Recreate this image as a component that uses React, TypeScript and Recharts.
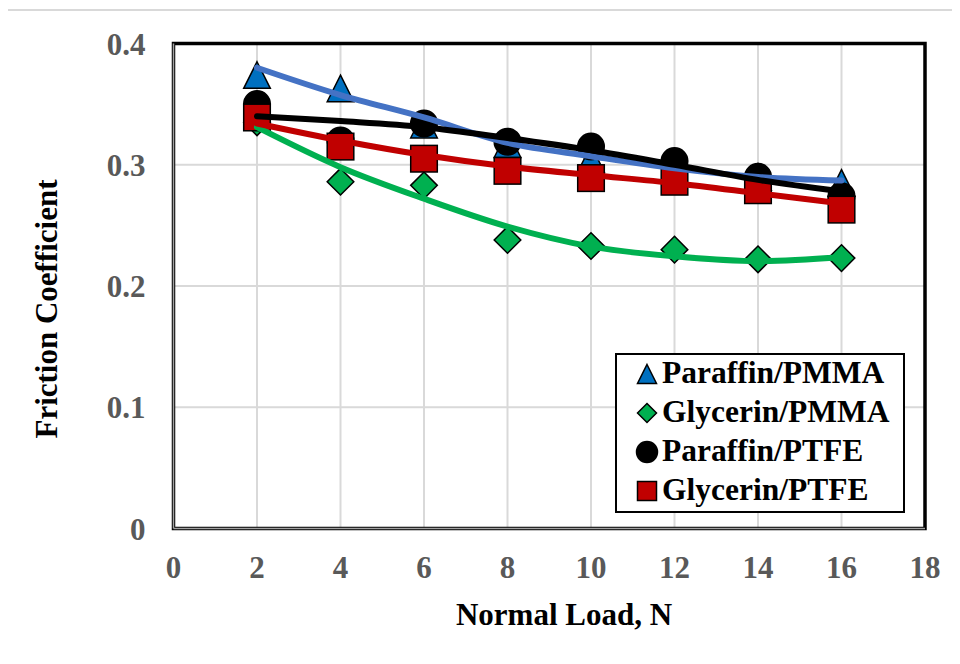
import React from "react"
import {
  ComposedChart,
  Line,
  XAxis,
  YAxis,
  CartesianGrid,
  ReferenceArea,
  Legend,
  Label,
} from "recharts"

const loads = [2, 4, 6, 8, 10, 12, 14, 16]

// measured points
const paraffinPmma = [0.374, 0.363, 0.333, 0.317, 0.305, 0.296, 0.29, 0.285]
const glycerinPmma = [0.335, 0.286, 0.283, 0.238, 0.233, 0.23, 0.222, 0.223]
const paraffinPtfe = [0.35, 0.32, 0.334, 0.319, 0.315, 0.303, 0.29, 0.274]
const glycerinPtfe = [0.339, 0.315, 0.305, 0.295, 0.289, 0.286, 0.279, 0.263]

// trend lines at each load
const paraffinPmmaFit = [0.38, 0.3575, 0.339, 0.318, 0.307, 0.297, 0.29, 0.287]
const glycerinPmmaFit = [0.331, 0.298, 0.272, 0.249, 0.2325, 0.2245, 0.2205, 0.224]
const paraffinPtfeFit = [0.34, 0.336, 0.331, 0.322, 0.312, 0.3, 0.2875, 0.278]
const glycerinPtfeFit = [0.334, 0.32, 0.308, 0.2985, 0.2915, 0.2848, 0.2765, 0.268]

const xTicks = [0, 2, 4, 6, 8, 10, 12, 14, 16, 18]
const yTicks = [0, 0.1, 0.2, 0.3, 0.4]

const FONT = '"Liberation Serif", "Times New Roman", serif'

const toPoints = (ys: number[]) => loads.map((x, i) => ({ x, y: ys[i] }))

const Triangle = ({ cx, cy, s = 13.3 }: any) => (
  <path
    d={`M${cx},${cy - s} L${cx + s},${cy + s} L${cx - s},${cy + s} Z`}
    fill="#0070C0"
    stroke="#000"
    strokeWidth={1.5}
  />
)
const Diamond = ({ cx, cy, s = 13.3 }: any) => (
  <path
    d={`M${cx},${cy - s} L${cx + s},${cy} L${cx},${cy + s} L${cx - s},${cy} Z`}
    fill="#00B050"
    stroke="#000"
    strokeWidth={1.5}
  />
)
const Dot = ({ cx, cy, s = 13.3 }: any) => (
  <circle cx={cx} cy={cy} r={s} fill="#000" stroke="#000" strokeWidth={1.5} />
)
const Square = ({ cx, cy, s = 13.3 }: any) => (
  <rect x={cx - s} y={cy - s} width={s * 2} height={s * 2} fill="#C00000" stroke="#000" strokeWidth={1.5} />
)

const series = [
  { name: "Paraffin/PMMA", pts: paraffinPmma, fit: paraffinPmmaFit, line: "#4472C4", Mark: Triangle },
  { name: "Glycerin/PMMA", pts: glycerinPmma, fit: glycerinPmmaFit, line: "#00B050", Mark: Diamond },
  { name: "Paraffin/PTFE", pts: paraffinPtfe, fit: paraffinPtfeFit, line: "#000000", Mark: Dot },
  { name: "Glycerin/PTFE", pts: glycerinPtfe, fit: glycerinPtfeFit, line: "#C00000", Mark: Square },
]

// trend lines are painted over all markers
const lineOrder = [1, 3, 0, 2]

function LegendBox() {
  return (
    <svg width={290} height={160} style={{ display: "block" }}>
      <rect x={1} y={1} width={288} height={158} fill="#fff" stroke="#000" strokeWidth={2} />
      {series.map((s, i) => {
        const base = 30 + i * 39
        const M = s.Mark
        return (
          <g key={s.name}>
            <M cx={32} cy={base - 9} s={i === 2 ? 10.5 : 9.5} />
            <text x={47} y={base} fontFamily={FONT} fontWeight="bold" fontSize={31.5} fill="#000">
              {s.name}
            </text>
          </g>
        )
      })}
    </svg>
  )
}

export default function App() {
  return (
    <div style={{ position: "relative", width: 952, height: 656 }}>
      <style>{`body{overflow:hidden}`}</style>
      <div
        style={{
          position: "absolute",
          left: -2,
          top: 1,
          width: 960,
          height: 700,
          borderLeft: "2px solid #d9d9d9",
          borderTop: "2px solid #d9d9d9",
          boxSizing: "border-box",
          pointerEvents: "none",
        }}
      />
      <ComposedChart
        width={952}
        height={656}
        margin={{ top: 35.5, right: 35, left: 65.5, bottom: 75.5 }}
        style={{ fontFamily: FONT }}
      >
        <CartesianGrid stroke="#d9d9d9" strokeWidth={2} />
        <ReferenceArea x1={0} x2={18} y1={0} y2={0.4} fill="none" stroke="#000" strokeWidth={3.5} />
        <XAxis
          type="number"
          dataKey="x"
          domain={[0, 18]}
          ticks={xTicks}
          height={60}
          tickSize={0}
          tickMargin={27.5}
          axisLine={{ stroke: "#a0a0a0", strokeWidth: 1.5 }}
          tick={{ fill: "#595959", fontSize: 31, fontWeight: "bold", fontFamily: FONT }}
        >
          <Label
            content={() => (
              <text x={556} y={617} textAnchor="middle" fontFamily={FONT} fontWeight="bold" fontSize={31} fill="#000">
                Normal Load, N
              </text>
            )}
          />
        </XAxis>
        <YAxis
          type="number"
          dataKey="y"
          domain={[0, 0.4]}
          ticks={yTicks}
          width={100}
          tickSize={0}
          tickMargin={28}
          axisLine={{ stroke: "#a0a0a0", strokeWidth: 1.5 }}
          tickFormatter={(v: number) => (v === 0 ? "0" : v.toFixed(1))}
          tick={{ fill: "#595959", fontSize: 31, fontWeight: "bold", fontFamily: FONT }}
        >
          <Label
            content={() => (
              <text
                x={48.5}
                y={301}
                transform="rotate(-90, 48.5, 301)"
                textAnchor="middle"
                fontFamily={FONT}
                fontWeight="bold"
                fontSize={31}
                fill="#000"
              >
                Friction Coefficient
              </text>
            )}
          />
        </YAxis>
        {series.map((s) => (
          <Line
            key={s.name}
            name={s.name}
            data={toPoints(s.pts)}
            dataKey="y"
            stroke="none"
            strokeWidth={0}
            dot={(p: any) => <s.Mark key={p.index} cx={p.cx} cy={p.cy} />}
            activeDot={false}
            isAnimationActive={false}
          />
        ))}
        {lineOrder.map((i) => (
          <Line
            key={series[i].name + "-fit"}
            data={toPoints(series[i].fit)}
            dataKey="y"
            type="monotone"
            stroke={series[i].line}
            strokeWidth={6}
            strokeLinecap="round"
            dot={false}
            activeDot={false}
            legendType="none"
            isAnimationActive={false}
            {...({ zIndex: 1000 } as any)}
          />
        ))}
        <Legend
          layout="vertical"
          align="center"
          verticalAlign="middle"
          content={() => <LegendBox />}
          wrapperStyle={{ left: 607, top: 345, width: 290, height: 160 }}
        />
      </ComposedChart>
    </div>
  )
}
